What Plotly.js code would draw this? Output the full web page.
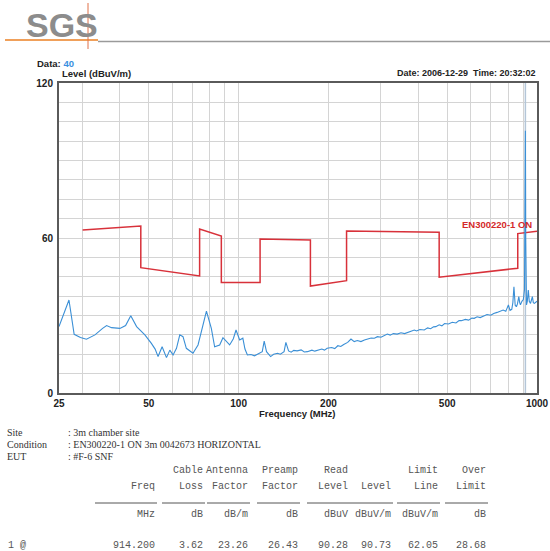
<!DOCTYPE html>
<html><head><meta charset="utf-8">
<script src="https://cdn.plot.ly/plotly-3.0.1.min.js"></script>
<style>html,body{margin:0;padding:0;background:#fff;}#chart{width:550px;height:551px;}</style>
</head><body><div id="chart"></div>
<script>
// ---- data ----
const scanFreq = [25,26,27,28.1,29.5,30.9,33,35,36.1,37.5,40,41.8,43.5,45.5,48.5,51,52.5,53.7,55.4,57.3,58.8,60.3,61.9,63.5,65.1,66.8,70.3,73.1,76,78,81,83.1,86.4,88.6,93.3,96,98,100.8,103.3,105,107,110,113,117,120,121.8,124,128,131,135,138,142,144,147,150,153,157,162,166,170,176,180,184,190,194,198,205,210,215,220,225,232,238,244,250,257,264,270,278,285,292,300,308,315,322,330,340,350,360,370,380,388,395,405,419,430,440,450,458,470,480,490,505,520,535,548,558,575,590,605,616,630,645,664,680,700,716,735,752,770,786,802,812,823,830,837,845,853,860,869,875,880,890,900,908,912,914.2,916.5,919,922,928,935,942,951,958,965,972,980,1000];
const scanLevel = [25.7,31,36.0,22.7,21.5,20.8,22.5,25.0,26.1,25.3,25.0,26.1,29.9,25.7,22.5,19.2,17,14.1,17.9,13.7,16.6,14.7,17.3,22.5,21.8,17.3,15.4,18.6,27,31.7,25.0,17.9,18.6,21.4,18.6,21,24.4,20.5,21.2,17,14.7,14.9,14.4,15.4,16,20.1,16.0,14.1,15,15.4,15,16.0,19.6,16.3,15.8,16.5,16.3,16.7,15.9,16.0,16.6,16.2,16.6,17.0,16.6,17.3,17.6,17.2,18.3,18.0,18.8,19.6,20.9,19.9,20.3,19.9,20.5,20.8,21.3,21.2,21.8,21.6,22.3,22.8,22.4,23.0,22.8,23.3,23.0,23.6,24.0,24.4,24.0,24.6,24.4,25.2,24.9,25.6,25.7,26.4,26.0,26.9,26.7,27.4,27.1,28.0,28.0,28.5,28.2,29.0,28.9,29.5,29.2,29.8,30.4,30.1,30.8,31.2,31.7,32.1,31.6,34.1,32.0,32.4,35,41.1,34,33.4,34.5,37.3,35,34.1,35.5,36.2,40,75,101.5,60,38,34.1,35.5,39.9,35.5,34.7,36,37.3,35,34.7,35.5];
const limitFreq = [30,47,47,74,74,87.5,87.5,118,118,174,174,230,230,470,470,862,862,1000];
const limitLevel = [63.1,64.6,48.5,45.3,63.5,60.8,42.8,42.8,59.6,59.2,41.4,43.5,62.7,62.2,44.8,48.3,61.7,62.6];
const markerFreq = [914.2, 914.2];
const markerSpan = [0, 120];
const xTickVals = [25,30,40,50,60,70,80,90,100,200,300,400,500,600,700,800,900,1000];
const xTickText = ['25','','','50','','','','','100','200','','','500','','','','','1000'];
const yTickVals = [0,7.5,15,22.5,30,37.5,45,52.5,60,67.5,75,82.5,90,97.5,105,112.5,120];
const yTickText = ['0','','','','','','','','60','','','','','','','','120'];
const infoLabels = ['Site','Condition','EUT'];
const infoValues = [': 3m chamber site', ': EN300220-1 ON 3m 0042673 HORIZONTAL', ': #F-6 SNF'];
const headRow1 = ['', 'Cable', 'Antenna', 'Preamp', 'Read', '', 'Limit', 'Over'];
const headRow2 = ['Freq', 'Loss', 'Factor', 'Factor', 'Level', 'Level', 'Line', 'Limit'];
const unitRow = ['MHz', 'dB', 'dB/m', 'dB', 'dBuV', 'dBuV/m', 'dBuV/m', 'dB'];
const dataRow = ['914.200', '3.62', '23.26', '26.43', '90.28', '90.73', '62.05', '28.68'];

// ---- layout helpers (pixel -> paper) ----
const L = 59, R = 537, T = 83, B = 393;
const px = x => (x - L) / (R - L);
const py = y => (B - y) / (B - T);
const colRight = [157, 205, 250, 300, 350, 393, 440, 488];
const sans = 'Liberation Sans, Arial, sans-serif';
const mono = 'Liberation Mono, Courier New, monospace';
const serif = 'Liberation Serif, Times New Roman, serif';

const ann = [];
const shapes = [];
function txt(x, y, text, opts) {
  ann.push(Object.assign({xref:'paper', yref:'paper', x:px(x), y:py(y), text:text, showarrow:false,
    xanchor:'left', yanchor:'middle', font:{family:sans, size:10, color:'#222'}}, opts || {}));
}
function line(x0, y0, x1, y1, color, w) {
  shapes.push({type:'line', xref:'paper', yref:'paper', x0:px(x0), y0:py(y0), x1:px(x1), y1:py(y1),
    line:{color:color, width:w}});
}

// logo
txt(24, 25, 'SGS', {font:{family:sans, size:34, color:'#8c8c8c', weight:'bold'}});
line(5, 40, 98, 40, '#f0a05a', 2);
line(98, 41.5, 550, 41.5, '#9a9a9a', 1.5);
line(88, 3, 88, 49, '#e07048', 1);

// chart header
txt(35, 63, 'Data: <span style="color:#3a8fe0">40</span>', {font:{family:sans, size:9.5, color:'#222', weight:'bold'}});
txt(60, 73, 'Level (dBuV/m)', {font:{family:sans, size:9.5, color:'#222', weight:'bold'}});
txt(537, 73, 'Date: 2006-12-29  Time: 20:32:02', {xanchor:'right', font:{family:sans, size:9, color:'#222', weight:'bold'}});
txt(297, 413, 'Frequency (MHz)', {xanchor:'center', font:{family:sans, size:9.5, color:'#222', weight:'bold'}});
txt(534, 224, 'EN300220-1 ON', {xanchor:'right', font:{family:sans, size:9.5, color:'#d42a2a', weight:'bold'}});

// info block
infoLabels.forEach((s, i) => {
  txt(5, 432 + i * 12, s, {font:{family:serif, size:10, color:'#333'}});
  txt(66, 432 + i * 12, infoValues[i], {font:{family:serif, size:10, color:'#333'}});
});

// table
const tf = {family:mono, size:10, color:'#555'};
colRight.forEach((xr, i) => {
  if (headRow1[i]) txt(xr, 470, headRow1[i], {xanchor:'right', font:tf});
  txt(xr, 486, headRow2[i], {xanchor:'right', font:tf});
  txt(xr, 514, unitRow[i], {xanchor:'right', font:tf});
  txt(xr, 545, dataRow[i], {xanchor:'right', font:tf});
  line(i === 0 ? 95 : xr - 43, 503, xr, 503, '#555', 1);
});
txt(6, 545, '1 @', {font:tf});

const traces = [
  {x: markerFreq, y: markerSpan, mode:'lines', line:{color:'#b4c6d8', width:1.5}, hoverinfo:'skip'},
  {x: limitFreq, y: limitLevel, mode:'lines', line:{color:'#d8313a', width:1.5}, name:'EN300220-1 ON'},
  {x: scanFreq, y: scanLevel, mode:'lines', line:{color:'#3a8fd6', width:1.1}, name:'Level'}
];

const layout = {
  width: 550, height: 551,
  margin: {l: L, r: 550 - R, t: T, b: 551 - B},
  paper_bgcolor: '#fff', plot_bgcolor: '#fff',
  showlegend: false,
  xaxis: {type:'log', range:[Math.log10(25), Math.log10(1000)], tickmode:'array', tickvals:xTickVals, ticktext:xTickText,
    showgrid:true, gridcolor:'#d4d4d4', gridwidth:1, showline:true, mirror:true, linecolor:'#5a5a5a', linewidth:2,
    ticks:'', zeroline:false, tickfont:{family:sans, size:10, color:'#222', weight:'bold'}, ticklabelstandoff:0},
  yaxis: {range:[0,120], tickmode:'array', tickvals:yTickVals, ticktext:yTickText,
    showgrid:true, gridcolor:'#d4d4d4', gridwidth:1, showline:true, mirror:true, linecolor:'#5a5a5a', linewidth:2,
    ticks:'', zeroline:false, tickfont:{family:sans, size:10, color:'#222', weight:'bold'}, ticklabelstandoff:2},
  annotations: ann,
  shapes: shapes
};

Plotly.newPlot('chart', traces, layout, {displayModeBar:false, staticPlot:true});
</script>
</body></html>
